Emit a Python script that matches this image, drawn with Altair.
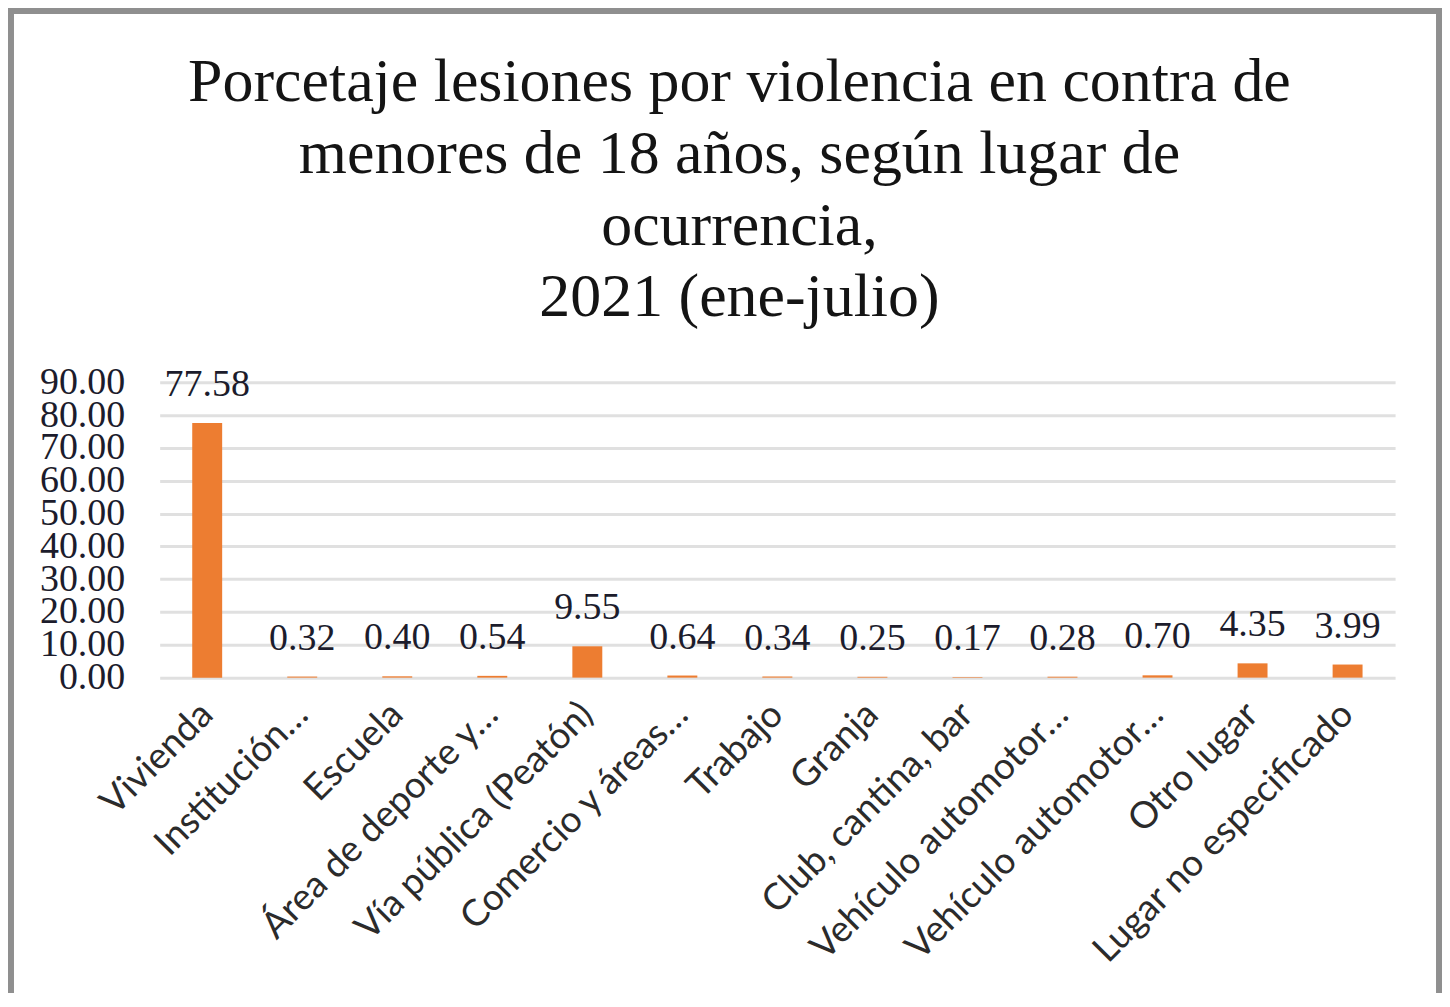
import json
import altair as alt
import pandas as pd

categories = [
    "Vivienda",
    "Institución…",
    "Escuela",
    "Área de deporte y…",
    "Vía pública (Peatón)",
    "Comercio y áreas…",
    "Trabajo",
    "Granja",
    "Club, cantina, bar",
    "Vehículo automotor…",
    "Vehículo automotor…",
    "Otro lugar",
    "Lugar no especificado",
]
values = [77.58, 0.32, 0.40, 0.54, 9.55, 0.64, 0.34, 0.25, 0.17, 0.28, 0.70, 4.35, 3.99]
y_ticks = [0, 10, 20, 30, 40, 50, 60, 70, 80, 90]
title_lines = [
    "Porcetaje lesiones por violencia en contra de",
    "menores de 18 años, según lugar de",
    "ocurrencia,",
    "2021 (ene-julio)",
]

df = pd.DataFrame({"idx": list(range(len(categories))), "lugar": categories, "pct": values})

W, H = 1238, 296
PAD = {"left": 152, "top": 374, "right": 47, "bottom": 315}
TOTAL_H = PAD["top"] + H + PAD["bottom"]

label_expr = json.dumps(categories, ensure_ascii=False) + "[datum.value]"

x_enc = alt.X(
    "idx:O",
    scale=alt.Scale(paddingInner=0.685, paddingOuter=0.3425),
    axis=alt.Axis(
        title=None,
        labelExpr=label_expr,
        labelAngle=-45,
        labelAlign="right",
        labelBaseline="middle",
        labelFont="Lato",
        labelFontSize=37,
        labelColor="#2b2b2b",
        labelPadding=31,
        labelLimit=2000,
        labelOverlap=False,
        ticks=False,
        tickSize=0,
        domain=False,
        grid=False,
    ),
)
y_enc = alt.Y(
    "pct:Q",
    scale=alt.Scale(domain=[0, 90], nice=False),
    axis=alt.Axis(
        title=None,
        values=y_ticks,
        format=".2f",
        labelFont="Liberation Serif",
        labelFontSize=38,
        labelColor="#1c1c2c",
        labelPadding=35,
        labelOverlap=False,
        labelBound=False,
        ticks=False,
        domain=False,
        grid=True,
        gridColor="#e0e0e0",
        gridWidth=3,
    ),
)

base = alt.Chart(df).encode(x=x_enc, y=y_enc)
bars = base.mark_bar(color="#ED7D31")
labels = base.mark_text(
    font="Liberation Serif",
    fontSize=38,
    color="#1c1c2c",
    baseline="alphabetic",
    dy=-27,
).encode(text=alt.Text("pct:Q", format=".2f"))

frame_df = pd.DataFrame({"k": [0]})
frame_color = "#8f8f8f"
left_rule = alt.Chart(frame_df).mark_rule(color=frame_color, strokeWidth=6, strokeCap="square").encode(
    x=alt.value(3 - PAD["left"]), y=alt.value(2 - PAD["top"]), y2=alt.value(TOTAL_H - PAD["top"])
)
top_rule = alt.Chart(frame_df).mark_rule(color=frame_color, strokeWidth=6, strokeCap="square").encode(
    x=alt.value(3 - PAD["left"]), x2=alt.value(1434 - PAD["left"]), y=alt.value(2 - PAD["top"])
)
right_rule = alt.Chart(frame_df).mark_rule(color=frame_color, strokeWidth=6, strokeCap="square").encode(
    x=alt.value(1434 - PAD["left"]), y=alt.value(2 - PAD["top"]), y2=alt.value(TOTAL_H - PAD["top"])
)

title_text = alt.Chart(frame_df).mark_text(
    font="Liberation Serif",
    fontSize=62,
    color="#141414",
    align="center",
    baseline="alphabetic",
    lineBreak="\n",
    lineHeight=72,
).encode(
    text=alt.value("\n".join(title_lines)),
    x=alt.value(733 - PAD["left"]),
    y=alt.value(92 - PAD["top"]),
)

chart = (
    alt.layer(bars, labels, title_text, left_rule, top_rule, right_rule)
    .properties(
        width=W,
        height=H,
        autosize=alt.AutoSizeParams(type="none"),
        padding=PAD,
        background="white",
    )
    .configure_view(stroke=None)
)

chart.save("out.html", embed_options={"renderer": "svg", "actions": False})
